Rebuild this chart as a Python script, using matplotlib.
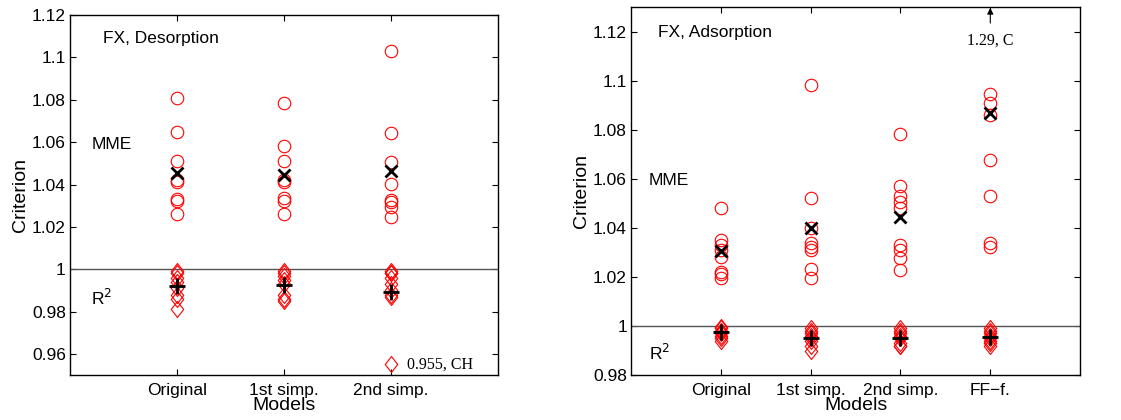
import numpy as np
import matplotlib.pyplot as plt
from matplotlib.path import Path
from matplotlib.ticker import FuncFormatter

plt.rcParams['font.family'] = ['Liberation Sans', 'DejaVu Sans']

# ---- FX, Desorption ----
des_models = ['Original', '1st simp.', '2nd simp.']
des_mme = [
    [1.081, 1.065, 1.051, 1.042, 1.041, 1.033, 1.032, 1.026],
    [1.0786, 1.058, 1.0513, 1.0422, 1.0411, 1.0335, 1.032, 1.026],
    [1.103, 1.0643, 1.0505, 1.0401, 1.0327, 1.0317, 1.0293, 1.0246],
]
des_mme_mean = [1.0456, 1.0445, 1.0466]
des_r2 = [
    [0.999, 0.998, 0.996, 0.994, 0.991, 0.988, 0.986, 0.981],
    [0.999, 0.998, 0.997, 0.995, 0.993, 0.988, 0.986, 0.985],
    [0.999, 0.998, 0.998, 0.996, 0.993, 0.990, 0.988, 0.987, 0.955],
]
des_r2_mean = [0.9919, 0.9926, 0.9891]

# ---- FX, Adsorption ----
ads_models = ['Original', '1st simp.', '2nd simp.', 'FF\u2212f.']
ads_mme = [
    [1.048, 1.035, 1.033, 1.031, 1.028, 1.022, 1.021, 1.0195],
    [1.0984, 1.0521, 1.0399, 1.034, 1.0324, 1.031, 1.0231, 1.0195],
    [1.0784, 1.0569, 1.0528, 1.0507, 1.048, 1.0331, 1.031, 1.0276, 1.0229],
    [1.0947, 1.0909, 1.0861, 1.0678, 1.0528, 1.034, 1.0324],
]
ads_mme_mean = [1.0305, 1.0399, 1.0446, 1.0868]
ads_r2 = [
    [0.9995, 0.999, 0.998, 0.9975, 0.997, 0.996, 0.995, 0.994],
    [0.999, 0.998, 0.997, 0.996, 0.995, 0.994, 0.992, 0.990],
    [0.999, 0.998, 0.997, 0.996, 0.995, 0.993, 0.992, 0.992],
    [0.999, 0.998, 0.997, 0.996, 0.995, 0.994, 0.993, 0.992],
]
ads_r2_mean = [0.9974, 0.995, 0.995, 0.9954]

# matlab-ish diamond (taller than wide)
diamond = Path([(0, 1), (0.78, 0), (0, -1), (-0.78, 0), (0, 1)],
               [Path.MOVETO, Path.LINETO, Path.LINETO, Path.LINETO, Path.CLOSEPOLY])

fmt = FuncFormatter(lambda v, p: '%g' % round(v, 4))


def draw_panel(ax, models, mme, mme_mean, r2, r2_mean, ylim, yticks):
    for i in range(len(models)):
        xpos = i + 1
        ax.plot(np.full(len(mme[i]), xpos), mme[i], 'o', ms=9, mfc='none',
                mec='r', mew=0.8, zorder=3)
        ax.plot(np.full(len(r2[i]), xpos), r2[i], marker=diamond, ls='none',
                ms=11.5, mfc='none', mec='r', mew=0.8, zorder=3)
    xs = np.arange(1, len(models) + 1)
    ax.plot(xs, mme_mean, 'x', ms=8, mew=2, color='k', zorder=4)
    ax.plot(xs, r2_mean, '+', ms=12, mew=2, color='k', zorder=4)
    ax.axhline(1.0, color='#555555', lw=1, zorder=2)

    ax.set_xlim(0, len(models) + 1)
    ax.set_ylim(*ylim)
    ax.set_xticks(xs)
    ax.set_xticklabels(models)
    ax.set_yticks(yticks)
    ax.yaxis.set_major_formatter(fmt)
    ax.tick_params(direction='in', length=4, width=0.8, labelsize=12.5,
                   top=True, right=True, pad=3)
    ax.tick_params(axis='x', pad=6)
    for s in ax.spines.values():
        s.set_linewidth(1)
    ax.set_ylabel('Criterion', fontsize=14, labelpad=2)
    ax.set_xlabel('Models', fontsize=14, labelpad=-1)


fig = plt.figure(figsize=(11.21, 4.2), dpi=100)
ax1 = fig.add_axes([0.0624, 0.107, 0.3818, 0.857])
ax2 = fig.add_axes([0.563, 0.107, 0.4005, 0.876])

draw_panel(ax1, des_models, des_mme, des_mme_mean, des_r2, des_r2_mean,
           (0.95, 1.12), np.arange(0.96, 1.1201, 0.02))
draw_panel(ax2, ads_models, ads_mme, ads_mme_mean, ads_r2, ads_r2_mean,
           (0.98, 1.13), np.arange(0.98, 1.1201, 0.02))

ax1.text(0.077, 0.935, 'FX, Desorption', transform=ax1.transAxes,
         fontsize=12.5, va='center')
ax1.text(0.05, 0.64, 'MME', transform=ax1.transAxes, fontsize=12.5, va='center')
ax1.text(0.05, 0.215, 'R$^2$', transform=ax1.transAxes, fontsize=12.5, va='center')
ax1.text(3.15, 0.955, '0.955, CH', fontsize=11.5, family='Liberation Serif',
         va='center')

ax2.text(0.06, 0.93, 'FX, Adsorption', transform=ax2.transAxes,
         fontsize=12.5, va='center')
ax2.text(0.04, 0.53, 'MME', transform=ax2.transAxes, fontsize=12.5, va='center')
ax2.text(0.04, 0.06, 'R$^2$', transform=ax2.transAxes, fontsize=12.5, va='center')
ax2.annotate('', xy=(4, 1.1297), xytext=(4, 1.1235),
             arrowprops=dict(arrowstyle='-|>', color='k', lw=0.8,
                             mutation_scale=9, shrinkA=0, shrinkB=0))
ax2.text(4, 1.1163, '1.29, C', fontsize=11.5, family='Liberation Serif',
         ha='center', va='center')

fig.savefig('out.png', dpi=100)
